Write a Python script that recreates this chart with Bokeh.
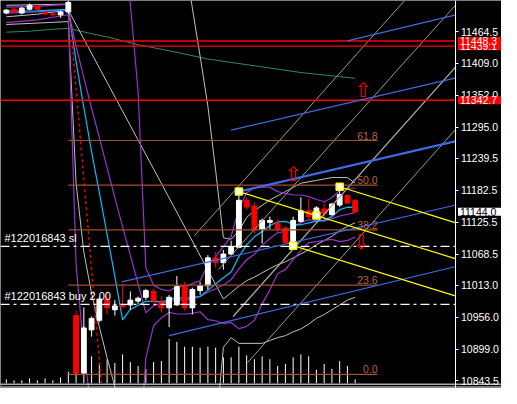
from bokeh.plotting import figure
from bokeh.models import Range1d, LinearAxis, FixedTicker, NumeralTickFormatter, Label, Span
from bokeh.core.properties import value
from bokeh.embed import file_html
from bokeh.resources import INLINE

# ---------------- data ----------------
bars = list(range(46))
opens = [11498.2, 11505.0, 11498.2, 11505.0, 11510.2, 11499.9, 11496.5, 11494.8, 11499.9,
         10959.3, 10856.7, 10933.7, 10950.8, 10988.4, 10969.6, 10978.2, 10978.2, 10985.0, 10991.8,
         11002.1, 10983.3, 10973.0, 10978.2, 11012.4, 10973.0, 11003.8, 11012.4, 11062.0, 11053.4,
         11068.8, 11080.8, 11164.6, 11154.3, 11113.3, 11125.3, 11123.6, 11115.1, 11087.6, 11127.0,
         11145.8, 11139.0, 11149.2, 11139.0, 11156.1, 11173.2, 11164.6]
highs = [11505.0, 11507.0, 11509.0, 11515.0, 11513.0, 11502.0, 11498.0, 11502.0, 11528.5,
         10967.9, 10940.0, 10957.6, 10991.8, 11003.8, 10986.7, 11015.8, 11002.1, 10993.0, 11007.0,
         11007.3, 10993.5, 10996.0, 11029.5, 11019.2, 11009.0, 11019.0, 11067.0, 11072.2, 11076.0,
         11092.7, 11180.0, 11169.8, 11161.2, 11132.1, 11135.5, 11130.4, 11118.0, 11135.5, 11169.8,
         11168.0, 11154.0, 11161.2, 11160.0, 11190.3, 11175.0, 11166.0]
lows = [11496.0, 11498.0, 11496.0, 11503.0, 11503.0, 11494.0, 11492.0, 11489.6, 11496.0,
        10854.5, 10855.0, 10921.7, 10947.4, 10961.1, 10959.3, 10973.0, 10969.6, 10980.0, 10987.0,
        10981.6, 10964.5, 10938.8, 10976.4, 10967.9, 10961.1, 10996.0, 11005.0, 11044.9, 11041.0,
        11067.0, 11079.0, 11147.5, 11104.8, 11087.6, 11113.3, 11106.5, 11088.0, 11084.2, 11125.0,
        11127.0, 11135.0, 11130.4, 11137.0, 11152.6, 11158.0, 11143.0]
closes = [11503.3, 11499.9, 11506.7, 11511.9, 11505.0, 11496.5, 11494.8, 11499.9, 11517.0,
          10856.7, 10937.1, 10954.2, 10988.4, 10973.0, 10976.4, 10974.7, 10986.7, 10990.1, 11003.8,
          10985.0, 10973.0, 10991.8, 11010.7, 10973.0, 11005.5, 11012.4, 11062.0, 11053.4, 11068.8,
          11082.5, 11164.6, 11152.6, 11111.6, 11128.7, 11128.7, 11113.3, 11089.3, 11128.7, 11145.8,
          11135.5, 11150.9, 11140.7, 11157.8, 11174.9, 11159.5, 11144.0]
volumes = [40, 30, 30, 50, 30, 50, 30, 60, 120,
           515, 790, 280, 210, 250, 210, 300, 220, 180, 150,
           220, 230, 460, 430, 380, 380, 370, 380, 370, 270,
           270, 380, 290, 250, 280, 250, 180, 200, 270, 300,
           280, 140, 200, 150, 230, 180, 40]

price_ticks = [11521.5, 11464.5, 11409.0, 11352.0, 11295.0, 11239.5, 11182.5,
               11125.5, 11068.5, 11013.0, 10956.0, 10899.0, 10843.5]

# indicators (bar index, price)
cyan_k = [0, 4, 8] + list(range(9, 46))
cyan_p = [11501.6, 11502.0, 11504.5,
          11411.7, 11329.6, 11250.9, 11178.3, 11103.8, 11028.9, 10951.5, 10970.1, 10977.6, 10984.7,
          10984.2, 10984.2, 10986.4, 10991.6, 10989.6, 10991.8, 10993.1, 11004.1, 11015.5, 11026.5,
          11036.8, 11064.2, 11085.2, 11099.4, 11108.9, 11119.6, 11126.0, 11127.0, 11121.8, 11120.9,
          11124.3, 11127.5, 11129.2, 11135.5, 11147.8, 11152.2, 11151.9]

purple_k = [0, 4, 8] + list(range(9, 46))
purple_up = [11508.5, 11510.0, 11513.6,
             11824, 11866, 11864, 11835, 11786, 11716, 11628, 11514, 11358, 11044,
             11013, 11006, 11003, 11011, 11011, 11016, 11021, 11050, 11064, 11082,
             11100, 11149, 11178, 11187, 11188, 11188, 11180, 11177, 11174, 11174,
             11171, 11166, 11162, 11169, 11182, 11186, 11186]
purple_mid = [11498.0, 11500.0, 11503.5,
              11439.2, 11382.6, 11328.0, 11276.2, 11222.3, 11169.4, 11117.2, 11066.4, 11015.4, 10964.1,
              10976.9, 10980.5, 10984.3, 10986.5, 10986.5, 10989.4, 10993.2, 11000.7, 11007.1, 11013.6,
              11023.3, 11042.5, 11058.6, 11068.6, 11084.2, 11096.5, 11106.6, 11109.4, 11116.9, 11124.6,
              11129.9, 11128.5, 11127.3, 11131.9, 11136.6, 11139.6, 11142.7]
purple_lo = [11481.0, 11486.0, 11495.0,
             11050, 10896, 10788, 10715, 10658, 10622, 10607, 10618, 10673, 10884,
             10941, 10955, 10965, 10962, 10962, 10963, 10966, 10952, 10950, 10945,
             10947, 10936, 10940, 10951, 10980, 11005, 11034, 11041, 11059, 11075,
             11089, 11091, 11093, 11095, 11091, 11093, 11099]

silver_mid_k = [0, 4, 8, 28] + list(range(29, 46))
silver_mid_p = [11491.4, 11496.0, 11503.3, 10988.8,
                11000.1, 11011.5, 11021.4, 11027.6, 11035.4, 11043.0, 11049.9, 11055.0, 11061.9,
                11069.0, 11076.5, 11085.4, 11092.8, 11100.2, 11110.3, 11118.0, 11124.6]
silver_up_k = [0, 8, 9, 12, 15, 18, 21, 23, 24, 25, 26, 27, 28, 29, 30, 31, 32, 34, 36, 38, 40, 42, 44, 45]
silver_up_p = [11511.9, 11514.0, 11710, 11810, 11810, 11760, 11690, 11600, 11506.7, 11421.2, 11332.3,
               11217.6, 11097.9, 11095, 11110, 11134, 11146, 11165, 11180, 11195, 11200, 11205, 11205, 11195]
silver_lo_k = [0, 8, 9, 10, 11, 12, 13, 14, 15, 18, 21, 24, 27, 28, 29, 30, 33, 34, 35, 36, 37,
               38, 39, 40, 41, 42, 43, 44, 45]
silver_lo_p = [11477.6, 11482.8, 11195, 11072.2, 10998.7, 10938.8, 10884.0, 10832.7, 10800, 10740,
               10715, 10715, 10750, 10902.8, 10919.9, 10909.7, 10909.7, 10914.8, 10919.9, 10923.4,
               10930.2, 10935.4, 10943.9, 10954.2, 10961.0, 10969.6, 10978.1, 10986.7, 10991.8]

green_k = [0, 3, 6, 8, 9, 13, 17, 22, 26, 32, 38, 45]
green_p = [11464.0, 11465.7, 11469.1, 11470.8, 11467.4, 11455.4, 11441.7, 11428.1, 11416.1,
           11404.1, 11392.1, 11381.8]

red_dash_k = [8.0, 12.25]
red_dash_p = [11525.0, 10839.0]

# objects
red_levels = [11448.3, 11439.1, 11342.7]
order_sl = 11082.5
order_buy = 10979.3
order_labels = ["#122016843 sl", "#122016843 buy 2.00"]

fibo_low, fibo_high = 10854.5, 11528.5
fibo_levels = [0.0, 23.6, 38.2, 50.0, 61.8]
fibo_k0, fibo_k1 = 8.0, 47.9

blue_k0 = [30.0, 29.0, 44.0, 14.875, 21.0]
blue_p0 = [11180.0, 11289.5, 11448.6, 11019.2, 10923.4]
blue_k1 = [58.0, 58.0, 58.0, 58.0, 58.0]
blue_p1 = [11269.8, 11382.7, 11494.8, 11156.1, 11046.6]

yellow_k0 = [30.0, 43.0, 37.0]
yellow_p0 = [11180.0, 11188.6, 11083.7]
yellow_k1 = [58.0, 58.0, 58.0]
yellow_p1 = [11060.3, 11124.4, 10993.9]
yellow_pts_k = [30.0, 40.0, 37.0, 43.0]
yellow_pts_p = [11180.0, 11137.3, 11083.7, 11188.6]

grey_k0 = [24.25, 27.375, 29.25, 31.125]
grey_p0 = [11101.3, 11041.4, 10957.6, 10875.5]
grey_k1 = [51.375, 58.0, 58.0, 58.0]
grey_p1 = [11520.4, 11512.9, 11402.7, 11291.5]

arrow_k = [46.0, 37.0, 45.75]
arrow_p = [11361.3, 11210.8, 11091.0]
arrow_sym = ["\u21e7", "\u21e7", "\u21e9"]

axis_marks = [11439.1, 11448.3, 11342.7, 11144.0]
axis_mark_bg = ["#ff0000", "#ff0000", "#ff0000", "#ffffff"]
axis_mark_fg = ["#ffffff", "#ffffff", "#ffffff", "#000000"]

# ---------------- figure ----------------
axis_k = 58.0                       # bar-index position of the price scale
XR = Range1d(-0.75, 63.875)
YR = Range1d(10829.3, 11520.4)
p = figure(width=501, height=388, output_backend="svg", toolbar_location=None,
           x_range=XR, y_range=YR, x_axis_location=None, y_axis_location=None,
           background_fill_color="black", border_fill_color="black", min_border=0)
p.outline_line_color = None
p.grid.visible = False
p.extra_y_ranges = {"vol": Range1d(-55, 3985)}

yax = LinearAxis(fixed_location=axis_k, ticker=FixedTicker(ticks=price_ticks),
                 formatter=NumeralTickFormatter(format="0.0"))
yax.major_label_text_color = "white"
yax.major_label_text_font = "Liberation Sans"
yax.major_label_text_font_size = "10.5px"
yax.axis_line_color = "white"
yax.major_tick_line_color = "white"
yax.major_tick_out = 3
yax.major_tick_in = 0
yax.minor_tick_line_color = None
yax.major_label_standoff = 2
p.add_layout(yax, "right")

for loc in (10837.0, 10831.9):
    p.add_layout(Span(location=loc, dimension="width", line_color="white", line_width=1))

# volumes
p.segment(x0=bars, y0=[0] * len(bars), x1=bars, y1=volumes, y_range_name="vol",
          line_color="white", line_width=1)

# indicators
p.line(green_k, green_p, line_color="#2e8b57", line_width=1)
p.line(silver_up_k, silver_up_p, line_color="#c0c0c0", line_width=1)
p.line(silver_mid_k, silver_mid_p, line_color="#c0c0c0", line_width=1)
p.line(silver_lo_k, silver_lo_p, line_color="#c0c0c0", line_width=1)
p.line(purple_k, purple_up, line_color="#9932cc", line_width=1.2)
p.line(purple_k, purple_mid, line_color="#9932cc", line_width=1.2)
p.line(purple_k, purple_lo, line_color="#9932cc", line_width=1.2)
p.line(cyan_k, cyan_p, line_color="#00bfff", line_width=1.2)
p.line(red_dash_k, red_dash_p, line_color="#ff0000", line_width=1.3, line_dash="3 3")

# candles
up = [c >= o for o, c in zip(opens, closes)]
uk = [k for k, u in zip(bars, up) if u]
dk = [k for k, u in zip(bars, up) if not u]
def sel(arr, flag):
    return [a for a, u in zip(arr, up) if u == flag]
p.segment(x0=uk, y0=sel(lows, True), x1=uk, y1=sel(highs, True), line_color="white", line_width=1)
p.segment(x0=dk, y0=sel(lows, False), x1=dk, y1=sel(highs, False), line_color="#ff0000", line_width=1)
p.vbar(x=uk, width=0.62, bottom=sel(opens, True), top=sel(closes, True),
       fill_color="white", line_color="white", line_width=1)
p.vbar(x=dk, width=0.62, bottom=sel(closes, False), top=sel(opens, False),
       fill_color="#ff0000", line_color="#ff0000", line_width=1)

# grey straight lines
p.segment(x0=grey_k0, y0=grey_p0, x1=grey_k1, y1=grey_p1,
          line_color=["#9a9a9a", "#9a9a9a", "#aaaaaa", "#9a9a9a"], line_width=[1, 1, 1.3, 1])

# fibonacci
fib_prices = [fibo_low + (fibo_high - fibo_low) * l / 100.0 for l in fibo_levels]
p.segment(x0=[fibo_k0] * len(fib_prices), y0=fib_prices, x1=[fibo_k1] * len(fib_prices), y1=fib_prices,
          line_color="#a0522d", line_width=1.2)
p.text(x=[fibo_k1] * len(fib_prices), y=fib_prices, text=["%.1f" % l for l in fibo_levels],
       text_color="#b8643c", text_font=value("Liberation Sans"), text_font_size="10.5px",
       text_align="right", text_baseline="bottom", y_offset=-1)

# horizontal red lines
p.segment(x0=[XR.start] * 3, y0=red_levels, x1=[axis_k] * 3, y1=red_levels,
          line_color="#ff0000", line_width=1.3)

# order lines
p.segment(x0=[XR.start] * 2, y0=[order_sl, order_buy], x1=[axis_k] * 2, y1=[order_sl, order_buy],
          line_color="white", line_width=1.2, line_dash="9 4 3 4")
p.text(x=[XR.start] * 2, y=[order_sl, order_buy], text=order_labels, text_color="white",
       text_font=value("Liberation Sans"), text_font_size="11px", text_align="left",
       text_baseline="bottom", x_offset=4, y_offset=-2)

# blue trend lines
p.segment(x0=blue_k0, y0=blue_p0, x1=blue_k1, y1=blue_p1, line_color="#4169e1",
          line_width=[2.2, 1.2, 1.2, 1.2, 1.2])

# yellow channel
p.segment(x0=yellow_k0, y0=yellow_p0, x1=yellow_k1, y1=yellow_p1, line_color="#ffff00", line_width=1.2)
p.scatter(yellow_pts_k, yellow_pts_p, marker="square", size=7, fill_color="white",
          line_color="#ffff00", line_width=1.5)

# arrows
p.text(x=arrow_k, y=arrow_p, text=arrow_sym, text_color="#ff0000", text_font=value("DejaVu Sans"),
       text_font_size="20px", text_align="center", text_baseline="middle")

# axis price marks
for pr, bg, fg in zip(axis_marks, axis_mark_bg, axis_mark_fg):
    p.add_layout(Label(x=axis_k, y=pr, x_offset=2, text="%.1f" % pr, text_color=fg,
                       text_font="Liberation Sans", text_font_size="10.5px",
                       text_align="left", text_baseline="middle",
                       background_fill_color=bg,
                       padding=dict(left=2, right=6, top=0, bottom=0)))

open("out.html", "w").write(file_html(p, INLINE))
